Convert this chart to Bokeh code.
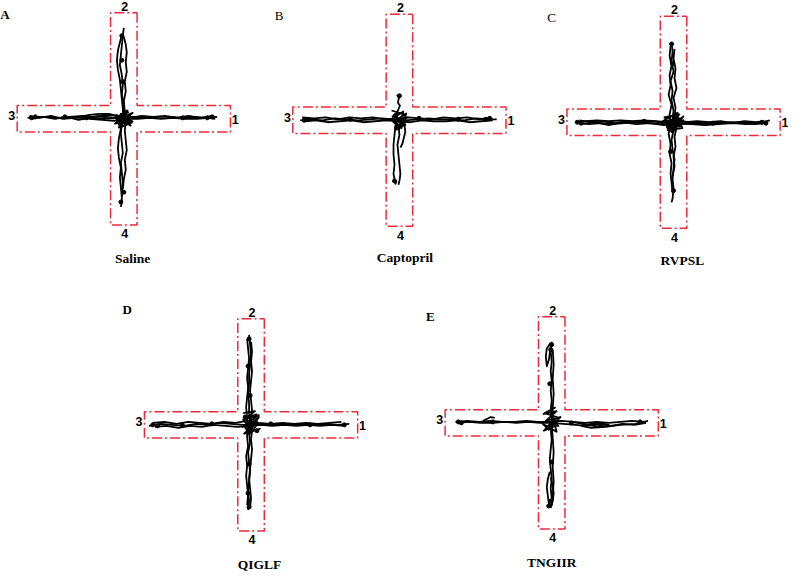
from bokeh.plotting import figure
from bokeh.models import Range1d
from bokeh.embed import file_html
from bokeh.resources import INLINE
from bokeh.core.properties import value

# ---------------- data ----------------
PANEL_LETTERS = ["A", "B", "C", "D", "E"]
TREATMENTS = ["Saline", "Captopril", "RVPSL", "QIGLF", "TNGIIR"]
ARM_LABELS = ["1", "2", "3", "4"]

# movement tracks, offsets (px) from the maze centre, y downward
SALINE_X = [
    [-98, -90, -80, -68, -55, -42, -30, -18, -8, 0, 10, 22, 35, 48, 60, 72, 84, 95],
    [-96, -86, -74, -62, -50, -38, -26, -14, -4, 6, 18, 30, 42, 54, 66, 78, 90],
    [-94, -82, -70, -58, -46, -34, -22, -10, 2, 14, 26, 38, 50, 62, 74, 86, 93],
    [-45, -35, -25, -15, -8, -3, -10, -22, -35, -45],
    [0, -1, -2, -3, -4, -2, -1, -2, 0, -1, -2, -3, -2, -1, -3, -2, -1, -2, -2, -3],
    [-2, -4, -6, -7, -6, -4, -3, -2, -1, 0, -3, -5, -6, -5, -3, -4, -3, -2],
    [0, 2, 3, 2, 3, 1, 2, 0, 1, 2, 1, 2, 3, 1, 2, 0, -1],
    [-8, 6, -5, 9, -7, 4, -9, 8, -3, 7, -6, 5],
    [4, -6, 8, -2, -8, 6, 0, -5, 9, -4],
]
SALINE_Y = [
    [-1, -2, -2, -1, -2, -3, -2, -2, -1, -2, -2, -1, -2, -2, -1, -2, -1, -2],
    [-3, -1, -3, 0, -1, -1, -3, -4, -3, -1, -3, -2, -3, -1, -3, -1, -3],
    [0, -2, 0, -2, 1, -1, 0, -1, 0, 0, -1, 0, -1, 0, 0, -1, 0],
    [-2, -4, -5, -5, -3, 0, 2, 1, 0, -2],
    [-93, -85, -75, -65, -55, -45, -35, -25, -15, -5, 5, 15, 25, 35, 45, 55, 65, 75, 85, 90],
    [-86, -78, -70, -60, -50, -40, -30, -20, -10, 0, 10, 20, 30, 40, 50, 60, 70, 80],
    [-84, -76, -68, -58, -48, -38, -28, -18, -8, 2, 12, 22, 32, 42, 52, 62, 72],
    [-4, 3, 6, -6, 1, -8, 5, 2, -5, 7, -1, -7],
    [-9, -2, 4, 8, -3, 1, -7, 9, 3, -5],
]
SALINE_DOT_X = [-94, -90, -60, -20, -38, 90, 85, 60, -2, -2, -1, 0, -3, 5, -5]
SALINE_DOT_Y = [-1, -2, -2, -3, -1, -2, -1, -1, -85, -60, -38, 75, 85, 0, 3]

CAPTOPRIL_X = [
    [-101, -90, -78, -66, -54, -42, -30, -18, -6, 6, 18, 30, 42, 54, 66, 78, 90, 99],
    [-99, -87, -75, -63, -51, -39, -27, -15, -3, 9, 21, 33, 45, 57, 69, 81, 93],
    [-97, -85, -73, -61, -49, -37, -25, -13, -1, 11, 23, 35, 47, 59, 71, 83, 95],
    [-2.5, -0.5, -1.5, 0.5, -1.5, -3.5, -2, -1],
    [-4, -5, -6, -6, -5, -6, -5, -4, -3],
    [-1, 0, -2, -1, 0, 1, 0, -1],
    [2, 5, 6, 4, 3, 1],
    [-8, 5, -6, 8, -3, 6, -7, 2, 7, -4],
    [3, -7, 6, -2, -8, 4, 0, -5],
]
CAPTOPRIL_Y = [
    [0, -1, 0, -2, -1, 0, -1, -2, -1, 0, -1, -2, -1, -1, 0, -2, -1, -1],
    [-3, -2, -3, -1, -3, -2, -3, -1, -2, -3, -2, -1, -3, -2, -3, -1, -3],
    [1, 0, 2, 1, 0, 2, 1, 0, 1, 2, 0, 1, 1, 0, 2, 1, 0],
    [-26, -23, -18, -15, -10, -6, -2, 2],
    [5, 15, 25, 35, 45, 55, 60, 65, 62],
    [5, 15, 25, 35, 45, 55, 62, 66],
    [-3, 4, 12, 20, 24, 28],
    [-10, -6, 2, -3, 7, 5, -2, 8, -7, 1],
    [-8, -4, 4, 6, -1, -9, 9, 2],
]
CAPTOPRIL_DOT_X = [-97, -93, -50, 20, 60, 92, 88, -5, 0, -4, 3, -3]
CAPTOPRIL_DOT_Y = [0, -1, -1, -2, -1, -2, -1, 62, -25, -5, 4, 8]

RVPSL_X = [
    [-100, -90, -78, -66, -54, -42, -30, -18, -6, 6, 18, 30, 42, 54, 66, 78, 90, 98],
    [-98, -86, -74, -62, -50, -38, -26, -14, -2, 10, 22, 34, 46, 58, 70, 82, 94],
    [-96, -84, -72, -60, -48, -36, -24, -12, 0, 12, 24, 36, 48, 60, 72, 84, 92],
    [-94, -80, -66, -52, -38, -24, -10, 4, 18, 32, 46, 60, 74, 88],
    [-2, -1, -2, 0, -3, -1, -2, 0, -1, 0, -2, -1, 1, 0, -1, 0, -1, -2],
    [-3, -4, -2, -4, -3, -5, -2, -4, -3, -5, -3, -4, -2, -3, -2, -1],
    [1, 0, 2, 1, 3, 0, 2, 1, 3, 1, 2, 0, 1, -1],
    [-10, 6, -7, 10, -4, 8, -11, 3, 9, -6, 11],
    [5, -9, 2, -5, 10, -2, -8, 7],
]
RVPSL_Y = [
    [0, -1, -2, -1, -2, -1, -2, -1, 0, -1, 0, 1, 0, 1, 0, 1, 0, -2],
    [1, 2, 1, 2, 1, 0, 1, 2, 1, 2, 1, 2, 1, 0, 1, 2, 1],
    [-2, 0, -1, 1, -1, 0, -1, 0, -3, 0, -1, 0, -1, 1, -1, 0, -1],
    [2, 0, 3, 0, 2, 1, 3, 1, 2, 3, 2, 1, 2, 1],
    [-82, -72, -62, -52, -42, -32, -22, -12, -2, 8, 18, 28, 38, 48, 58, 68, 78, 82],
    [-78, -68, -58, -48, -38, -28, -18, -8, 2, 12, 22, 32, 42, 52, 62, 72],
    [-75, -65, -55, -45, -35, -25, -15, -5, 5, 15, 25, 35, 45, 55],
    [-5, -8, 4, -2, 7, 3, -1, -9, 6, 8, 1],
    [-10, -3, 9, 5, -6, 10, 2, -4],
]
RVPSL_DOT_X = [-98, -94, -30, 0, 40, 90, 94, -2, -1, -3, 0, 2, -5, 6]
RVPSL_DOT_Y = [0, 1, -1, 0, 1, 0, 1, -80, -60, 30, 70, -5, 5, 3]

QIGLF_X = [
    [-104, -92, -80, -68, -56, -44, -32, -20, -8, 4, 16, 28, 40, 52, 64, 76, 88, 100],
    [-100, -88, -76, -64, -52, -40, -28, -16, -4, 8, 20, 32, 44, 56, 68, 80, 92],
    [-98, -86, -74, -62, -50, -38, -26, -14, -2, 10, 22, 34, 46, 58, 70, 82, 95],
    [-2, -1, 0, -1, -2, -2, -3, -2, -2, -1, -2, -1, -3, -2, -1, -2, -3, -2, -3],
    [-4, -3, -2, -3, -4, -3, -4, -5, -4, -3, -4, -3, -5, -4, -5, -4, -3, -4],
    [0, 1, 0, 1, 0, -1, 0, 1, 0, 1, 0, 1, 0, -1, -2, -1, 0, -1],
    [-8, 4, -6, 8, -9, 6, -3, 9, -7, 3],
    [6, -8, 2, -4, 8, -6, 0, 7],
]
QIGLF_Y = [
    [1, -1, 0, 1, -1, 0, -2, -1, 0, -1, 0, -1, 0, -1, 0, -1, 0, -1],
    [-2, -3, -1, -3, -2, -1, -3, -2, -4, -2, -1, -2, -1, -2, -1, -2, -3],
    [2, 1, 3, 1, 2, 0, 1, 2, 1, 0, 1, 0, 1, 0, 1, 0, 1],
    [-92, -82, -72, -62, -52, -42, -32, -22, -12, -2, 8, 18, 28, 38, 48, 58, 68, 78, 87],
    [-88, -78, -68, -58, -48, -38, -28, -18, -8, 2, 12, 22, 32, 42, 52, 62, 72, 82],
    [-85, -75, -65, -55, -45, -35, -25, -15, -5, 5, 15, 25, 35, 45, 55, 65, 75, 85],
    [-12, -14, -6, -10, 2, -3, 8, 4, 9, -1],
    [-11, -5, 6, 10, -8, 3, 9, -2],
]
QIGLF_DOT_X = [-100, -95, -40, -70, 20, 60, 95, -2, -3, -1, -2, -3, -2, -6, 6]
QIGLF_DOT_Y = [0, 1, -1, 0, -1, 0, 0, -88, -60, -30, 40, 70, 84, -8, 6]

TNGIIR_X = [
    [-98, -86, -74, -62, -50, -38, -26, -14, -2, 10, 22, 34, 46, 58, 70, 82, 94],
    [-96, -84, -72, -60, -48, -36, -24, -12, 0, 12, 24, 36, 48, 60, 72, 84, 96],
    [20, 32, 44, 52, 58, 50, 40, 30, 40, 55, 70, 85, 98],
    [-70, -66, -62, -58],
    [0, -1, 0, -1, 0, -1, 0, -1, 0, -1, 0, -1, -2, -1, 0, -1, 0, -1],
    [-1, -5, -6, -5, -3, -1],
    [1, 2, 1, 2, 1, 0, 1, 2, 1, 2, 1, 0],
    [-2, -4, -5, -4, -3, -1, 1, 2, 1, -1],
    [-9, 5, -6, 9, -4, 6, -8, 3, 7],
    [4, -7, 8, -3, -9, 5, 1],
]
TNGIIR_Y = [
    [-1, -2, -1, -2, -1, -1, -2, -1, -1, -2, -1, 0, -1, 0, -1, -2, -1],
    [0, -1, 0, 0, -1, 0, -1, 0, 0, 1, 2, 3, 1, 3, 1, 2, 0],
    [-1, 1, 3, 4, 2, 0, 1, 3, 5, 4, 2, 1, -2],
    [-2, -4, -6, -5],
    [-83, -73, -63, -53, -43, -33, -23, -13, -3, 7, 17, 27, 37, 47, 57, 67, 77, 87],
    [-82, -76, -68, -58, -64, -78],
    [-75, -60, -45, -30, -15, 0, 15, 30, 45, 60, 75, 85],
    [50, 58, 66, 74, 82, 86, 80, 72, 64, 56],
    [-9, -12, -2, -6, 6, 2, 8, -4, 4],
    [-16, -10, -5, 7, 1, 9, -7],
]
TNGIIR_DOT_X = [-95, -92, -60, 20, 50, 90, 0, -1, -2, 0, -1, -3]
TNGIIR_DOT_Y = [-1, 0, -1, 0, 2, -1, -80, -75, -40, 40, 80, 85]

TRACKS_X = [SALINE_X, CAPTOPRIL_X, RVPSL_X, QIGLF_X, TNGIIR_X]
TRACKS_Y = [SALINE_Y, CAPTOPRIL_Y, RVPSL_Y, QIGLF_Y, TNGIIR_Y]
DOTS_X = [SALINE_DOT_X, CAPTOPRIL_DOT_X, RVPSL_DOT_X, QIGLF_DOT_X, TNGIIR_DOT_X]
DOTS_Y = [SALINE_DOT_Y, CAPTOPRIL_DOT_Y, RVPSL_DOT_Y, QIGLF_DOT_Y, TNGIIR_DOT_Y]

# ---------------- layout (positions / sizes / styles) ----------------
CENTERS = [(128, 122), (408.5, 123.5), (687.5, 125.5), (257.5, 435), (563.5, 433)]
HALF_W = 13.5      # half width of an arm
HALF_L = 108.5     # centre to arm end
ARM_LABEL_OFFSETS = [(113.5, 0.5), (1, -115), (-114, -3), (1, 117.5)]
LETTER_POS = [(7, 15), (286, 16), (563.5, 18.5), (131.5, 317), (440, 324)]
LETTER_BOLD = ["bold", "normal", "normal", "bold", "bold"]
TITLE_POS = [(137, 265), (414, 263.5), (696.5, 267), (266, 578), (563.5, 576)]

RED = "#ee2a3a"

p = figure(width=788, height=571, output_backend="svg", toolbar_location=None,
           x_range=Range1d(2.5, 804.5), y_range=Range1d(585, 1),
           min_border=0, outline_line_color=None)
p.xaxis.visible = False
p.yaxis.visible = False
p.grid.visible = False
p.background_fill_color = "white"
p.border_fill_color = "white"

for i, (cx, cy) in enumerate(CENTERS):
    w, L = HALF_W, HALF_L
    px = [cx + w, cx + w, cx + L, cx + L, cx + w, cx + w,
          cx - w, cx - w, cx - L, cx - L, cx - w, cx - w, cx + w]
    py = [cy - L, cy - w, cy - w, cy + w, cy + w, cy + L,
          cy + L, cy + w, cy + w, cy - w, cy - w, cy - L, cy - L]
    p.line(px, py, line_color=RED, line_width=1.5, line_dash="10 3 2 3")

    xs = [[cx + v for v in s] for s in TRACKS_X[i]]
    ys = [[cy + v for v in s] for s in TRACKS_Y[i]]
    p.multi_line(xs, ys, line_color="black", line_width=1.8, line_join="round")

    p.scatter([cx + v for v in DOTS_X[i]], [cy + v for v in DOTS_Y[i]],
              size=4, color="black")

    lx = [cx + o[0] for o in ARM_LABEL_OFFSETS]
    ly = [cy + o[1] for o in ARM_LABEL_OFFSETS]
    p.text(x=lx, y=ly, text=ARM_LABELS, text_font=value("Liberation Sans"),
           text_font_size="12.5px", text_font_style="bold", text_align="center",
           text_baseline="middle", text_color="black")

    p.text(x=[LETTER_POS[i][0]], y=[LETTER_POS[i][1]], text=[PANEL_LETTERS[i]],
           text_font=value("Liberation Serif"), text_font_size="13px",
           text_font_style=LETTER_BOLD[i], text_align="center",
           text_baseline="middle", text_color="black")

    p.text(x=[TITLE_POS[i][0]], y=[TITLE_POS[i][1]], text=[TREATMENTS[i]],
           text_font=value("Liberation Serif"), text_font_size="13.5px",
           text_font_style="bold", text_align="center", text_baseline="middle",
           text_color="black")

open("out.html", "w").write(file_html(p, INLINE))
